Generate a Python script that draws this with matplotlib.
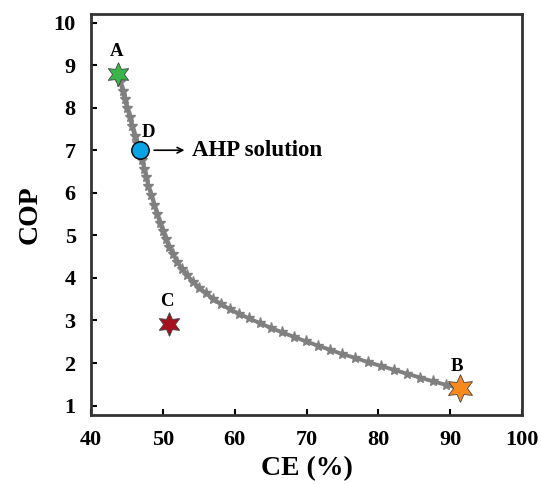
import matplotlib.pyplot as plt

plt.rcParams['font.family'] = ['Liberation Serif', 'DejaVu Serif']
plt.rcParams['font.weight'] = 'bold'

# Pareto front (CE %, COP)
front_ce = [43.8, 44.1, 44.4, 44.7, 45.0, 45.4, 45.7, 46.1, 46.4, 46.8,
            47.1, 47.4, 47.7, 48.0, 48.4, 48.8, 49.2, 49.6, 50.0, 50.4,
            50.9, 51.4, 52.0, 52.7, 53.4, 54.2, 55.1, 56.0, 57.0, 58.1,
            59.3, 60.6, 62.0, 63.5, 65.0, 66.6, 68.2, 69.9, 71.6, 73.3,
            75.0, 76.8, 78.6, 80.4, 82.2, 84.0, 85.8, 87.6, 89.4, 91.2]
front_cop = [8.80, 8.60, 8.40, 8.20, 8.00, 7.78, 7.56, 7.34, 7.16, 7.00,
             6.78, 6.57, 6.36, 6.15, 5.94, 5.72, 5.50, 5.30, 5.10, 4.91,
             4.73, 4.56, 4.38, 4.21, 4.06, 3.91, 3.77, 3.64, 3.51, 3.39,
             3.27, 3.16, 3.05, 2.94, 2.83, 2.72, 2.62, 2.51, 2.41, 2.31,
             2.21, 2.12, 2.02, 1.93, 1.84, 1.75, 1.66, 1.57, 1.49, 1.41]

# special points
pt_labels = ['A', 'B', 'C']
pt_ce = [43.8, 91.3, 50.8]
pt_cop = [8.80, 1.41, 2.92]
pt_colors = ['#3bb54a', '#f7891f', '#a3111f']
pt_sizes = [17, 20, 17]

d_ce, d_cop = 46.8, 7.0

fig = plt.figure(figsize=(5.41, 4.84), dpi=100)
ax = fig.add_axes([91 / 541, 1 - 415 / 484, 431 / 541, 401 / 484])

ax.plot(front_ce, front_cop, color='#808080', lw=2.8, marker='*',
        ms=8, zorder=2)

for lab, x, y, c, s in zip(pt_labels, pt_ce, pt_cop, pt_colors, pt_sizes):
    ax.plot(x, y, marker=(6, 1, 0), ms=s, color=c, mec='#444444', mew=0.6,
            zorder=4)
    ax.text(x - 0.3, y + 0.32, lab, ha='center', va='bottom', fontsize=13.5,
            fontweight='bold')

ax.plot(d_ce, d_cop, marker='o', ms=12.5, color='#0aa2e6', mec='black',
        mew=1.0, zorder=5)
ax.text(d_ce + 1.2, d_cop + 0.22, 'D', ha='center', va='bottom',
        fontsize=13.5, fontweight='bold')
ax.annotate('', xy=(53.4, d_cop), xytext=(48.4, d_cop),
            arrowprops=dict(arrowstyle='->', color='black', lw=1.2))
ax.text(54.0, d_cop, 'AHP solution', ha='left', va='center', fontsize=16.5,
        fontweight='bold')

ax.set_xlim(40, 100)
ax.set_ylim(0.78, 10.2)
ax.set_xticks(range(40, 101, 10))
ax.set_yticks(range(1, 11))
ax.tick_params(direction='in', length=4, width=1.5, labelsize=16)
ax.tick_params(axis='x', pad=11)
ax.tick_params(axis='y', pad=11)
for lab in ax.get_xticklabels() + ax.get_yticklabels():
    lab.set_fontweight('bold')
for sp in ax.spines.values():
    sp.set_linewidth(2)
    sp.set_color('#333333')

ax.set_xlabel('CE (%)', fontsize=20, fontweight='bold', labelpad=4)
ax.set_ylabel('COP', fontsize=20, fontweight='bold', labelpad=8)

fig.savefig('out.png', dpi=100)
